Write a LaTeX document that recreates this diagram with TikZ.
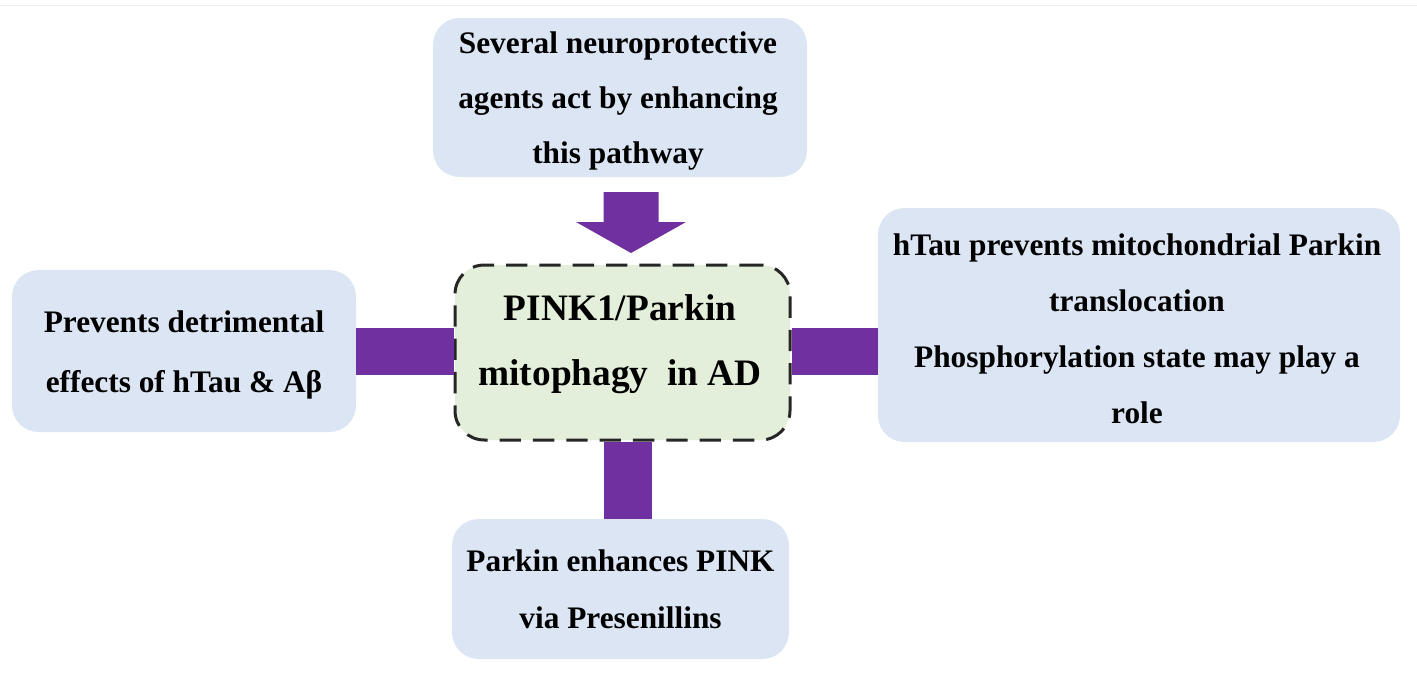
\documentclass[tikz,border=0pt]{standalone}
\usepackage{fontspec}
\setmainfont{Liberation Serif}
\definecolor{boxblue}{RGB}{220,229,243}
\definecolor{boxgreen}{RGB}{227,239,218}
\definecolor{barpurple}{RGB}{112,48,160}
\tikzset{
  bluebox/.style={fill=boxblue, rounded corners=20pt, inner sep=0pt},
  boxtext/.style={align=center, inner sep=0pt, font=\bfseries\fontsize{23.5}{42}\selectfont},
  centerbox/.style={fill=boxgreen, draw=black!85, line width=2.25pt, dash pattern=on 16pt off 9pt,
    rounded corners=22pt, inner sep=0pt},
  centertext/.style={align=center, font=\bfseries\fontsize{28}{49}\selectfont},
  bar/.style={draw=barpurple, line width=35.25pt},
  barv/.style={draw=barpurple, line width=36pt},
}
\begin{document}
\begin{tikzpicture}[x=0.75pt,y=-0.75pt]
\useasboundingbox (0,0) rectangle (1417,672);
\draw[black!7, line width=0.75pt] (0,5) -- (1417,5);
% boxes
\node[bluebox, minimum width=280.5pt, minimum height=119.25pt] (t) at (620,97.5) {};
\node[boxtext, font=\bfseries\fontsize{23.5}{41.5}\selectfont] (tt) at (618,101)
  {Several neuroprotective\\agents act by enhancing\\this pathway};
\node[centerbox, minimum width=251.25pt, minimum height=131.25pt] (c) at (622.5,352.5) {};
\node[centertext] (ct) at (620,344) {PINK1/Parkin\\mitophagy~ in AD};
\node[bluebox, minimum width=258pt, minimum height=121.5pt] (l) at (184,351) {};
\node[boxtext, font=\bfseries\fontsize{23.5}{45}\selectfont] (lt) at (184,355)
  {Prevents detrimental\\effects of hTau \& Aβ};
\node[bluebox, minimum width=391.5pt, minimum height=175.5pt] (r) at (1139,325) {};
\node[boxtext] (rt) at (1137,329)
  {hTau prevents mitochondrial Parkin\\translocation\\Phosphorylation state may play a\\role};
\node[bluebox, minimum width=252.75pt, minimum height=105pt] (b) at (620.5,589) {};
\node[boxtext, font=\bfseries\fontsize{23.5}{43}\selectfont] (bt) at (620.5,589)
  {Parkin enhances PINK\\via Presenillins};
% connectors
\coordinate (hy) at (0,351.5);
\coordinate (bx) at (628,0);
\coordinate (ta) at (631,192);
\draw[bar] (l.east |- hy) -- (c.west |- hy);
\draw[bar] (c.east |- hy) -- (r.west |- hy);
\draw[barv] (c.south -| bx) -- (b.north -| bx);
\fill[barpurple] (ta) ++(-27.5,0) -- ++(55,0) -- ++(0,30) -- ++(27.5,0) -- ++(-55,31) -- ++(-55,-31) -- ++(27.5,0) -- cycle;
\end{tikzpicture}
\end{document}
